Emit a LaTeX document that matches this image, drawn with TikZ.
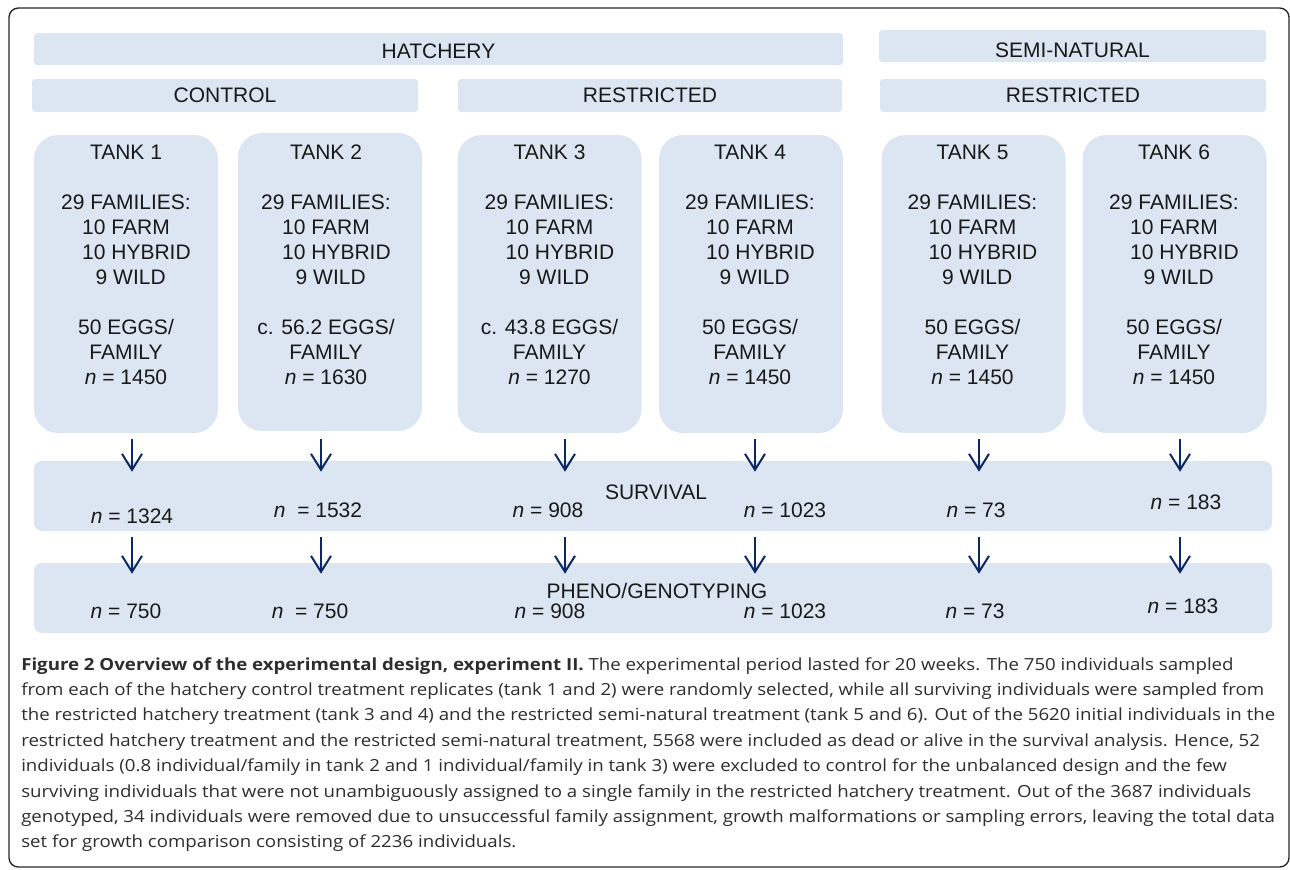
\documentclass[tikz,border=0pt]{standalone}
\usepackage{fontspec}
\setmainfont{Liberation Sans}
\newfontfamily\capfont[FakeStretch=1.12]{Open Sans}
\usepackage{tikz}
\usetikzlibrary{arrows.meta,calc}
\definecolor{boxfill}{RGB}{220,230,242}
\definecolor{navy}{RGB}{12,40,100}
\definecolor{captext}{RGB}{45,45,45}

\begin{document}
\begin{tikzpicture}[x=0.75pt,y=-0.75pt,
  bar/.style={fill=boxfill,rounded corners=2.5pt,inner sep=0pt,minimum height=24pt,font=\fontsize{15.75}{18.75}\selectfont,text=black!90},
  tank/.style={fill=boxfill,rounded corners=18pt,inner sep=0pt,minimum width=138pt,minimum height=223.5pt},
  tanktxt/.style={align=center,inner sep=0pt,anchor=north,font=\fontsize{15.75}{18.75}\selectfont,text=black!90},
  wide/.style={fill=boxfill,rounded corners=6pt,inner sep=0pt,minimum width=928.5pt,minimum height=52.5pt},
  nlbl/.style={inner sep=0pt,font=\fontsize{15.75}{18.75}\selectfont,text=black!90},
  arr/.style={draw=navy,line width=1.5pt,-{Straight Barb[length=12pt,width=15pt,line width=1.5pt]}},
  frame/.style={draw=black!85,line width=1pt,rounded corners=7pt}]
\useasboundingbox (0,0) rectangle (1290,869);
\draw[frame] (9,8) rectangle (1289,867);

\node[bar,minimum width=606.75pt,text height=14.3pt] (hatch) at (438.5,49) {HATCHERY};
\node[bar,minimum width=290.25pt,text height=17.3pt] (semi) at (1072.5,46) {SEMI-NATURAL};
\node[bar,minimum width=289.5pt,minimum height=24.75pt] (ctrl) at (225,95.5) {CONTROL};
\node[bar,minimum width=288pt,minimum height=24.75pt] (restrH) at (650,95.5) {RESTRICTED};
\node[bar,minimum width=289.5pt,minimum height=24.75pt] (restrS) at (1073,95.5) {RESTRICTED};

\foreach \i/\x/\y/\tx/\eggs/\n in {1/126/284/126/50/1450,2/330/282/326/c. 56.2/1630,3/549.5/284/549.5/c. 43.8/1270,
  4/751/284/750/50/1450,5/973.5/284/972.5/50/1450,6/1174.5/284/1174/50/1450}{
  \node[tank] (t\i) at (\x,\y) {};
  \node[tanktxt] (tt\i) at (\tx,145) {TANK \i\\[18.75pt]
    29 FAMILIES:\\ 10 FARM\\ \hspace*{1em}10 HYBRID\\ \hspace*{0.45em}9 WILD\\[18.75pt]
    \eggs\ EGGS/\\ FAMILY\\ \textit{n} = \n};
}

\node[wide] (surv) at (653,496) {};
\node[wide] (pheno) at (653,598) {};
\node[nlbl] (survlbl) at (656,492) {SURVIVAL};
\node[nlbl] (phenolbl) at (657,591) {PHENO/GENOTYPING};

\node[nlbl] (s1) at (132,516) {\textit{n} = 1324};
\node[nlbl] (s2) at (318,510) {\textit{n} \ = 1532};
\node[nlbl] (s3) at (548,510) {\textit{n} = 908};
\node[nlbl] (s4) at (785,510) {\textit{n} = 1023};
\node[nlbl] (s5) at (976,510) {\textit{n} = 73};
\node[nlbl] (s6) at (1186,502) {\textit{n} = 183};

\node[nlbl] (p1) at (126,611) {\textit{n} = 750};
\node[nlbl] (p2) at (310,611) {\textit{n} \ = 750};
\node[nlbl] (p3) at (550,611) {\textit{n} = 908};
\node[nlbl] (p4) at (785,611) {\textit{n} = 1023};
\node[nlbl] (p5) at (975,611) {\textit{n} = 73};
\node[nlbl] (p6) at (1183,606) {\textit{n} = 183};

\foreach \i/\x in {1/132,2/321,3/565,4/755,5/979,6/1180}{
  \coordinate (a\i) at (\x,439);
  \draw[arr,shorten >=-8.25pt] (a\i) -- (a\i |- surv.north);
  \draw[arr,shorten <=4.5pt,shorten >=-8.25pt] (a\i |- surv.south) -- (a\i |- pheno.north);
}

\node[anchor=north west,inner sep=0pt,align=left,text=captext,
  font=\capfont\fontsize{12.5}{19.05}\selectfont] (caption) at (21,657) {%
\textbf{Figure 2 Overview of the experimental design, experiment II.} The experimental period lasted for 20 weeks. The 750 individuals sampled\\
from each of the hatchery control treatment replicates (tank 1 and 2) were randomly selected, while all surviving individuals were sampled from\\
the restricted hatchery treatment (tank 3 and 4) and the restricted semi-natural treatment (tank 5 and 6). Out of the 5620 initial individuals in the\\
restricted hatchery treatment and the restricted semi-natural treatment, 5568 were included as dead or alive in the survival analysis. Hence, 52\\
individuals (0.8 individual/family in tank 2 and 1 individual/family in tank 3) were excluded to control for the unbalanced design and the few\\
surviving individuals that were not unambiguously assigned to a single family in the restricted hatchery treatment. Out of the 3687 individuals\\
genotyped, 34 individuals were removed due to unsuccessful family assignment, growth malformations or sampling errors, leaving the total data\\
set for growth comparison consisting of 2236 individuals.};
\end{tikzpicture}
\end{document}
